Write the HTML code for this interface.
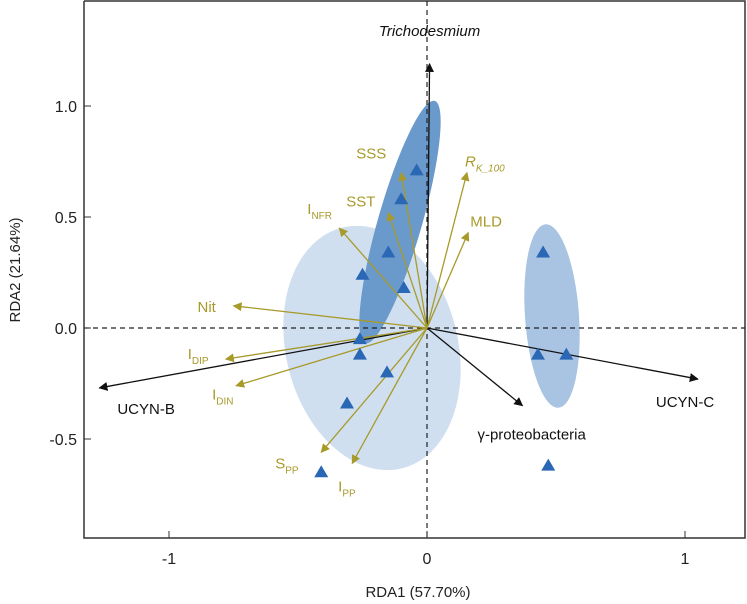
<!DOCTYPE html>
<html><head><meta charset="utf-8"><style>
body{margin:0;background:#fff}
svg{display:block;font-family:"Liberation Sans",sans-serif}
</style></head><body>
<svg id="c" width="747" height="604" viewBox="0 0 747 604">
<defs>
<marker id="ak" viewBox="0 0 10 10" refX="9" refY="5" markerWidth="9" markerHeight="9" markerUnits="userSpaceOnUse" orient="auto"><path d="M0,0L10,5L0,10z" fill="#111"/></marker>
<marker id="ay" viewBox="0 0 10 10" refX="9" refY="5" markerWidth="9" markerHeight="9" markerUnits="userSpaceOnUse" orient="auto"><path d="M0,0L10,5L0,10z" fill="#a89a2a"/></marker>
</defs>
<g id="ell"></g>
<g id="axes"></g>
<g id="arr"></g>
<g id="pts"></g>
</svg>
<script>
const xTicks=[-1,0,1];
const yTicks=[-0.5,0.0,0.5,1.0];
const speciesNames=["Trichodesmium","UCYN-B","UCYN-C","γ-proteobacteria"];
const speciesX=[0.01,-1.27,1.05,0.37];
const speciesY=[1.19,-0.27,-0.23,-0.35];
const envNames=["SSS","SST","INFR","RK100","MLD","Nit","IDIP","IDIN","SPP","IPP"];
const envX=[-0.10,-0.15,-0.34,0.155,0.16,-0.75,-0.78,-0.74,-0.41,-0.29];
const envY=[0.70,0.52,0.45,0.70,0.43,0.10,-0.14,-0.26,-0.56,-0.61];
const siteX=[-0.04,-0.10,-0.15,-0.25,-0.09,-0.26,-0.26,-0.155,-0.31,-0.41,0.45,0.43,0.54,0.47];
const siteY=[0.71,0.58,0.34,0.24,0.18,-0.05,-0.12,-0.20,-0.34,-0.65,0.34,-0.12,-0.12,-0.62];

const X=v=>427+258*v, Y=v=>328-222*v;
const NS="http://www.w3.org/2000/svg";
function mk(t,a,p){const e=document.createElementNS(NS,t);for(const k in a)e.setAttribute(k,a[k]);p.appendChild(e);return e;}
const ax=document.getElementById('axes'),ar=document.getElementById('arr'),pt=document.getElementById('pts'),el=document.getElementById('ell');

let e1=mk('ellipse',{cx:372,cy:348,rx:86,ry:124,transform:'rotate(-14 372 348)',fill:'#cfdff0'},el);


let e2=mk('ellipse',{cx:400,cy:222,rx:22,ry:126,transform:'rotate(16 400 222)',fill:'#6a99cc'},el);


let e3=mk('ellipse',{cx:552,cy:316,rx:27,ry:92,transform:'rotate(-4 552 316)',fill:'#a9c3e2'},el);



let fr=mk('path',{d:'M84,1V538H745V1H84',fill:'none',stroke:'#333','stroke-width':1.5},ax);


mk('line',{x1:84,x2:745,y1:Y(0),y2:Y(0),stroke:'#222','stroke-dasharray':'5,4','stroke-width':1.2},ax);
mk('line',{x1:X(0),x2:X(0),y1:1,y2:538,stroke:'#222','stroke-dasharray':'5,4','stroke-width':1.2},ax);
xTicks.forEach(v=>{
 mk('line',{x1:X(v),x2:X(v),y1:538,y2:531,stroke:'#333'},ax);
 let t=mk('text',{x:X(v),y:564,'text-anchor':'middle','font-size':16,fill:'#222'},ax);t.textContent=v;
 
 
});
yTicks.forEach(v=>{
 mk('line',{x1:84,x2:91,y1:Y(v),y2:Y(v),stroke:'#333'},ax);
 let t=mk('text',{x:77,y:Y(v)+6,'text-anchor':'end','font-size':16,fill:'#222'},ax);t.textContent=v.toFixed(1);
 
 
});
let xt=mk('text',{x:418,y:597,'text-anchor':'middle','font-size':15,fill:'#222'},ax);xt.textContent='RDA1 (57.70%)';


let yt=mk('text',{x:0,y:0,transform:'translate(20,270) rotate(-90)','text-anchor':'middle','font-size':15,fill:'#222'},ax);yt.textContent='RDA2 (21.64%)';



const spLab=[[0,-28,'middle',true],[18,26,'start',false],[-42,28,'start',false],[-45,34,'start',false]];
speciesNames.forEach((n,i)=>{
 let l=mk('line',{x1:X(0),y1:Y(0),x2:X(speciesX[i]),y2:Y(speciesY[i]),stroke:'#111','stroke-width':1.3,'marker-end':'url(#ak)'},ar);
 
 
 const o=spLab[i];
 let t=mk('text',{x:X(speciesX[i])+o[0],y:Y(speciesY[i])+o[1],'text-anchor':o[2],'font-size':15,fill:'#111'},ar);
 if(o[3])t.setAttribute('font-style','italic');
 t.textContent=n;
 
 
});
const envLab={SSS:['SSS',-45,-14],SST:['SST',-42,-6],INFR:['I|NFR',-32,-14],RK100:['R|K_100',-2,-6],MLD:['MLD',2,-6],Nit:['Nit',-36,6],IDIP:['I|DIP',-38,0],IDIN:['I|DIN',-24,14],SPP:['S|PP',-46,16],IPP:['I|PP',-14,28]};
envNames.forEach((n,i)=>{
 let l=mk('line',{x1:X(0),y1:Y(0),x2:X(envX[i]),y2:Y(envY[i]),stroke:'#a89a2a','stroke-width':1.3,'marker-end':'url(#ay)'},ar);
 
 
 const o=envLab[n],parts=o[0].split('|');
 let t=mk('text',{x:X(envX[i])+o[1],y:Y(envY[i])+o[2],'font-size':15,fill:'#a89a2a'},ar);
 if(n==='RK100')t.setAttribute('font-style','italic');
 t.appendChild(document.createTextNode(parts[0]));
 if(parts[1]){let s=mk('tspan',{'font-size':10,dy:5},t);s.textContent=parts[1];}
 
 
});
siteX.forEach((v,i)=>{
 const x=X(v),y=Y(siteY[i]);
 let p=mk('path',{d:`M${x},${y-7}L${x+7},${y+5}L${x-7},${y+5}z`,fill:'#2a67b4'},pt);
 
 
});
</script>
</body></html>
